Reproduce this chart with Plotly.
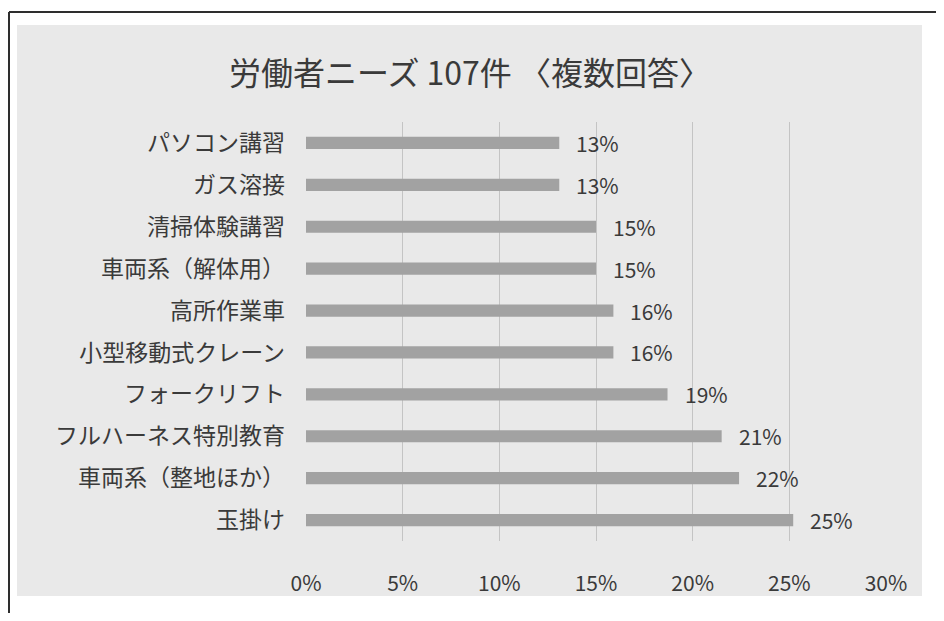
import plotly.graph_objects as go

categories = ["パソコン講習", "ガス溶接", "清掃体験講習", "車両系（解体用）", "高所作業車",
              "小型移動式クレーン", "フォークリフト", "フルハーネス特別教育", "車両系（整地ほか）", "玉掛け"]
values = [13.1, 13.1, 15.0, 15.0, 15.9, 15.9, 18.7, 21.5, 22.4, 25.2]
value_labels = ["13%", "13%", "15%", "15%", "16%", "16%", "19%", "21%", "22%", "25%"]
tick_vals = [0, 5, 10, 15, 20, 25, 30]
tick_text = ["0%", "5%", "10%", "15%", "20%", "25%", "30%"]
title_text = "労働者ニーズ 107件 〈複数回答〉"

# page body has an 8px margin; work in page pixels and convert
OFF = 8
W, H = 944 - 2 * OFF, 621 - 2 * OFF
PL, PR, PT, PB = 306, 886, 122, 541  # plot area in page pixels
L, T = PL - OFF, PT - OFF
R = W - (PR - OFF)
B = H - (PB - OFF)
PW, PH = W - L - R, H - T - B

def px(x):
    return (x - OFF - L) / PW

def py(y):
    return (H - B - (y - OFF)) / PH

jp = "Noto Sans CJK JP, Noto Sans, sans-serif"
txt = "#3a3a3a"

fig = go.Figure()
fig.add_trace(go.Bar(
    y=categories, x=values, orientation="h",
    marker=dict(color="#a2a2a2", line=dict(width=0)),
    hoverinfo="skip",
))

annotations = []
for c, v, t in zip(categories, values, value_labels):
    annotations.append(dict(x=v, y=c, xref="x", yref="y", text=t, showarrow=False,
                            xanchor="left", xshift=15,
                            font=dict(family=jp, size=21, color=txt)))
annotations.append(dict(x=px(470), y=py(71), xref="paper", yref="paper", text=title_text,
                        showarrow=False, xanchor="center", yanchor="middle",
                        font=dict(family=jp, size=32, color=txt)))

shapes = [
    dict(type="rect", xref="paper", yref="paper", x0=px(17), x1=px(922), y0=py(596), y1=py(25),
         fillcolor="#e9e9e9", line=dict(width=0), layer="below"),
    dict(type="line", xref="paper", yref="paper", x0=px(9), x1=px(944), y0=py(12), y1=py(12),
         line=dict(color="#2e2e2e", width=2)),
    dict(type="line", xref="paper", yref="paper", x0=px(9), x1=px(9), y0=py(12), y1=py(621),
         line=dict(color="#2e2e2e", width=2)),
]

fig.update_layout(
    width=W, height=H,
    margin=dict(l=L, r=R, t=T, b=B, autoexpand=False),
    paper_bgcolor="#ffffff", plot_bgcolor="rgba(0,0,0,0)",
    showlegend=False, bargap=0.71,
    annotations=annotations, shapes=shapes,
    xaxis=dict(range=[0, 30], tickvals=tick_vals, ticktext=tick_text,
               showgrid=True, gridcolor="#c4c4c4", gridwidth=1, zeroline=False,
               showline=False, ticks="", ticklabelstandoff=28,
               tickfont=dict(family=jp, size=21, color=txt), fixedrange=True),
    yaxis=dict(autorange="reversed", showgrid=False, zeroline=False, showline=False,
               ticks="", ticklabelstandoff=20,
               tickfont=dict(family=jp, size=23, color=txt), fixedrange=True),
)

fig.write_html("out.html")
